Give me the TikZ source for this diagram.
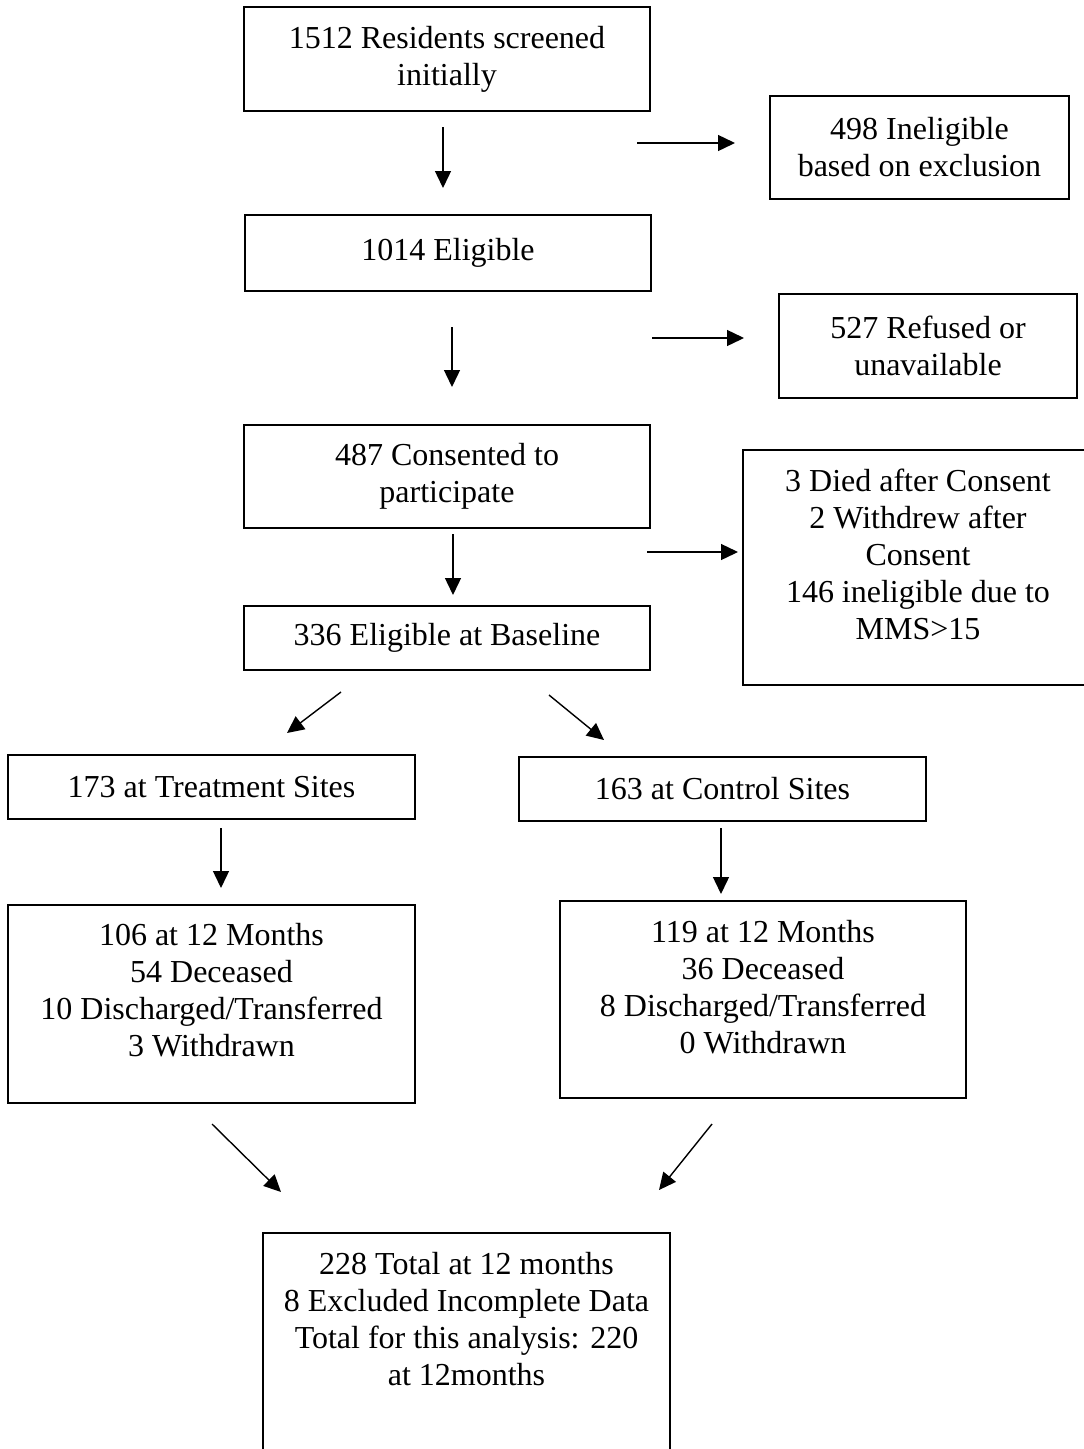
\documentclass[tikz,border=0pt]{standalone}
\usepackage{fontspec}
\setmainfont{Liberation Serif}
\usetikzlibrary{arrows.meta}
\newcommand{\tailroom}[1]{\rule[-#1]{0pt}{#1}}
\begin{document}
\begin{tikzpicture}[x=1pt, y=-1pt,
    every node/.style={align=center, font=\fontsize{32}{37}\selectfont},
    box/.style={draw, line width=1.8pt, inner sep=0pt},
    flow/.style={-{Triangle[length=17pt,width=16pt]}, line width=1.4pt}]
    \path[use as bounding box, fill=white] (0,0) rectangle (1084,1449);

    % main column
    \node[box, minimum width=406pt, minimum height=104pt] (screened) at (447,59) {1512 Residents screened\\initially};
    \node[box, minimum width=406pt, minimum height=76pt] (eligible) at (448,253) {1014 Eligible};
    \node[box, minimum width=406pt, minimum height=103pt] (consented) at (447,476.5) {487 Consented to\\participate};
    \node[box, minimum width=406pt, minimum height=64pt] (baseline) at (447,638) {336 Eligible at Baseline};

    % exclusions on the right
    \node[box, minimum width=299pt, minimum height=103pt] (ineligible) at (919.5,147.5) {498 Ineligible\\based on exclusion};
    \node[box, minimum width=298pt, minimum height=104pt] (refused) at (928,346) {527 Refused or\\unavailable};
    \node[box, minimum width=350pt, minimum height=235pt] (lost) at (918,567.5) {3 Died after Consent\\2 Withdrew after\\Consent\\146 ineligible due to\\MMS>15\tailroom{26pt}};

    % two arms
    \node[box, minimum width=407pt, minimum height=64pt] (treat) at (211.5,787) {173 at Treatment Sites};
    \node[box, minimum width=407pt, minimum height=64pt] (control) at (722.5,789) {163 at Control Sites};
    \node[box, minimum width=407pt, minimum height=198pt] (treatyr) at (211.5,1004) {106 at 12 Months\\54 Deceased\\10 Discharged/Transferred\\3 Withdrawn\tailroom{29pt}};
    \node[box, minimum width=406pt, minimum height=197pt] (controlyr) at (763,999.5) {119 at 12 Months\\36 Deceased\\8 Discharged/Transferred\\0 Withdrawn\tailroom{26pt}};

    \node[box, minimum width=407pt, minimum height=260pt] (total) at (466.5,1363) {228 Total at 12 months\\8 Excluded Incomplete Data\\Total for this analysis: 220\\at 12months\tailroom{88pt}};

    % arrow ends
    \coordinate (s1) at (443,127);   \coordinate (e1) at (443,188);
    \coordinate (s2) at (452,327);   \coordinate (e2) at (452,387);
    \coordinate (s3) at (453,534);   \coordinate (e3) at (453,595);
    \coordinate (r1s) at (637,143);  \coordinate (r1e) at (735,143);
    \coordinate (r2s) at (652,338);  \coordinate (r2e) at (744,338);
    \coordinate (r3s) at (647,552);  \coordinate (r3e) at (738,552);
    \coordinate (ls) at (341,692);   \coordinate (le) at (287,733);
    \coordinate (rs) at (549,695);   \coordinate (re) at (604,740);
    \coordinate (s4) at (221,828);   \coordinate (e4) at (221,888);
    \coordinate (s5) at (721,828);   \coordinate (e5) at (721,894);
    \coordinate (ts) at (212,1124);  \coordinate (te) at (281,1192);
    \coordinate (cs) at (712,1124);  \coordinate (ce) at (659,1190);

    \draw[flow] (s1) -- (e1);
    \draw[flow] (s2) -- (e2);
    \draw[flow] (s3) -- (e3);
    \draw[flow] (r1s) -- (r1e);
    \draw[flow] (r2s) -- (r2e);
    \draw[flow] (r3s) -- (r3e);
    \draw[flow] (ls) -- (le);
    \draw[flow] (rs) -- (re);
    \draw[flow] (s4) -- (e4);
    \draw[flow] (s5) -- (e5);
    \draw[flow] (ts) -- (te);
    \draw[flow] (cs) -- (ce);
\end{tikzpicture}
\end{document}
